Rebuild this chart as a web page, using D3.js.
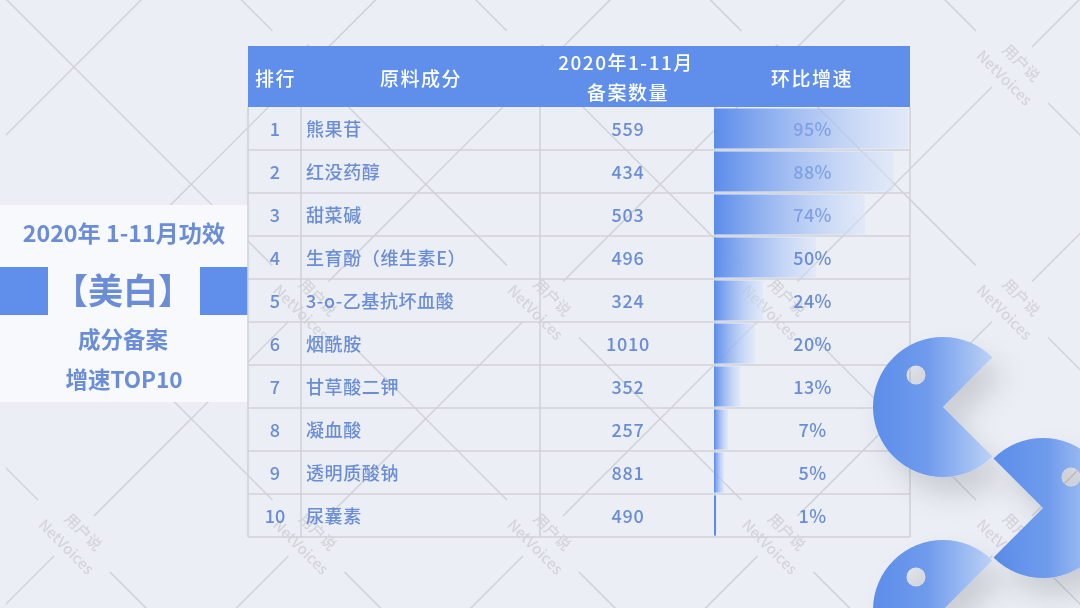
<!DOCTYPE html>
<html>
<head>
<meta charset="utf-8">
<script src="https://cdn.jsdelivr.net/npm/d3@7"></script>
<style>
  html, body { margin: 0; padding: 0; background: #ebeef5; overflow: hidden; }
  svg { display: block; filter: blur(0.35px); }
  text { font-family: "Noto Sans CJK SC", "Noto Sans", sans-serif; }
</style>
</head>
<body>
<div id="chart"></div>
<script>
var ranks = [1, 2, 3, 4, 5, 6, 7, 8, 9, 10];
var ingredients = ["熊果苷", "红没药醇", "甜菜碱", "生育酚（维生素E）", "3-o-乙基抗坏血酸",
                   "烟酰胺", "甘草酸二钾", "凝血酸", "透明质酸钠", "尿囊素"];
var counts = [559, 434, 503, 496, 324, 1010, 352, 257, 881, 490];
var growth = [95, 88, 74, 50, 24, 20, 13, 7, 5, 1];
var headers = ["排行", "原料成分", "环比增速"];
var countHeader = ["2020年1-11月", "备案数量"];
var panelTitle = "2020年 1-11月功效";
var panelKeyword = "【美白】";
var panelLines = ["成分备案", "增速TOP10"];

var width = 1080, height = 608;
var blue = "#5f8feb", textBlue = "#6a8dd6", gridGrey = "#d0d2d6", wmGrey = "#d4d5da";

var svg = d3.select("#chart").append("svg")
  .attr("width", width)
  .attr("height", height);
var defs = svg.append("defs");

var barGrad = defs.append("linearGradient").attr("id", "barGrad");
barGrad.append("stop").attr("offset", "0%").attr("stop-color", "#5b8cea");
barGrad.append("stop").attr("offset", "100%").attr("stop-color", "#d8e4fb").attr("stop-opacity", 0.5);

var pacGrad = defs.append("linearGradient").attr("id", "pacGrad");
pacGrad.append("stop").attr("offset", "0%").attr("stop-color", "#5b8dea");
pacGrad.append("stop").attr("offset", "45%").attr("stop-color", "#6f9bec");
pacGrad.append("stop").attr("offset", "100%").attr("stop-color", "#bcd2f6");

var shadow = defs.append("filter").attr("id", "pacShadow")
  .attr("x", "-40%").attr("y", "-40%").attr("width", "190%").attr("height", "190%");
shadow.append("feDropShadow")
  .attr("dx", 12).attr("dy", 18).attr("stdDeviation", 14)
  .attr("flood-color", "#000").attr("flood-opacity", 0.14);

svg.append("rect").attr("width", width).attr("height", height).attr("fill", "#ebeef5");

// background tile: crossing lines with a gap round each watermark
var tile = 234.5, half = tile / 2;
var bg = svg.append("g");
defs.append("clipPath").attr("id", "bgClip").append("rect")
  .attr("x", 6).attr("y", 0).attr("width", width - 6).attr("height", height);
var lines = bg.append("g").attr("clip-path", "url(#bgClip)")
  .attr("stroke", gridGrey).attr("stroke-width", 1.5);

d3.range(-1, 6).forEach(function(i) {
  d3.range(-1, 4).forEach(function(j) {
    var cx = 74 + tile * i, cy = 67 + tile * j;
    var clean = (i === 0 && j === 0);
    [[-1, -1, 36], [1, 1, 36], [1, -1, 20], [-1, 1, 20]].forEach(function(a) {
      var gap = clean ? 0 : a[2];
      lines.append("line")
        .attr("x1", cx + a[0] * gap).attr("y1", cy + a[1] * gap)
        .attr("x2", cx + a[0] * half).attr("y2", cy + a[1] * half);
    });
    // watermark only where the whole stamp fits on the page
    var visible = cx > 0 && cx < width - 40 && cy > 0 && cy < height - 40;
    if (!clean && visible) {
      bg.append("text")
        .attr("transform", "translate(" + (cx + 10) + "," + (cy - 5) + ") rotate(45)")
        .attr("text-anchor", "middle").attr("dominant-baseline", "central")
        .attr("font-size", 15).attr("font-weight", 500).attr("fill", wmGrey)
        .text("用户说");
      bg.append("text")
        .attr("transform", "translate(" + (cx - 7) + "," + (cy + 10) + ") rotate(45)")
        .attr("text-anchor", "middle").attr("dominant-baseline", "central")
        .attr("font-size", 15).attr("font-weight", 500).attr("fill", wmGrey)
        .text("NetVoices");
    }
  });
});

// left panel
var panel = svg.append("g");
panel.append("rect").attr("x", 0).attr("y", 205).attr("width", 248).attr("height", 197).attr("fill", "#f7f9fd");
panel.append("rect").attr("x", 0).attr("y", 267).attr("width", 48).attr("height", 48).attr("fill", blue);
panel.append("rect").attr("x", 200).attr("y", 267).attr("width", 48).attr("height", 48).attr("fill", blue);

function panelText(txt, x, y, size) {
  return panel.append("text")
    .attr("x", x).attr("y", y)
    .attr("text-anchor", "middle").attr("dominant-baseline", "central")
    .attr("font-size", size).attr("font-weight", 700)
    .attr("fill", textBlue)
    .text(txt);
}
panelText(panelTitle, 124, 232, 23.2);
panelText(panelKeyword, 123, 288, 35);
panelText(panelLines[0], 123, 338, 22.5);
panelText(panelLines[1], 124, 378, 22.5);

// table
var tableLeft = 248, tableRight = 910, headTop = 46, headBottom = 107, tableBottom = 537;
var colEdges = [tableLeft, 301, 540, 715, tableRight];
var rowY = d3.scaleBand().domain(ranks).range([headBottom, tableBottom]);
var barX = d3.scaleLinear().domain([0, 100]).range([714, 918]);

var table = svg.append("g");

var grid = table.append("g").attr("stroke", gridGrey).attr("stroke-width", 1.6);
colEdges.forEach(function(x) {
  grid.append("line").attr("x1", x).attr("x2", x).attr("y1", headBottom).attr("y2", tableBottom);
});
ranks.forEach(function(r) {
  grid.append("line").attr("x1", tableLeft).attr("x2", tableRight)
    .attr("y1", rowY(r) + rowY.bandwidth()).attr("y2", rowY(r) + rowY.bandwidth());
});

table.selectAll("rect.bar").data(growth).enter().append("rect")
  .attr("class", "bar")
  .attr("x", barX(0))
  .attr("y", function(d, i) { return rowY(ranks[i]) + 1.5; })
  .attr("width", function(d) { return barX(d) - barX(0); })
  .attr("height", rowY.bandwidth() - 3)
  .attr("fill", function(d) { return d < 3 ? "#5b8cea" : "url(#barGrad)"; });

table.append("rect")
  .attr("x", tableLeft).attr("y", headTop)
  .attr("width", tableRight - tableLeft).attr("height", headBottom - headTop)
  .attr("fill", blue);

function headText(txt, x, y) {
  table.append("text")
    .attr("x", x).attr("y", y)
    .attr("text-anchor", "middle").attr("dominant-baseline", "central")
    .attr("font-size", 19).attr("letter-spacing", 1.5)
    .attr("font-weight", 500).attr("fill", "#fff")
    .text(txt);
}
headText(headers[0], 275.5, 77);
headText(headers[1], 421, 77);
headText(countHeader[0], 626, 61);
headText(countHeader[1], 628, 91);
headText(headers[2], 812, 77);

function column(values, x, anchor, spacing, fmt, color) {
  table.selectAll(null).data(values).enter().append("text")
    .attr("x", x)
    .attr("y", function(d, i) { return rowY(ranks[i]) + rowY.bandwidth() / 2 - 1; })
    .attr("text-anchor", anchor).attr("dominant-baseline", "central")
    .attr("font-size", 18).attr("font-weight", 500).attr("letter-spacing", spacing)
    .attr("fill", color)
    .text(fmt);
}
column(ranks, 275, "middle", 0, function(d) { return d; }, textBlue);
column(ingredients, 306, "start", 0.6, function(d) { return d; }, textBlue);
column(counts, 628, "middle", 0.8, function(d) { return d; }, textBlue);
// the bar tint lies over the text in the long bars
column(growth, 812.5, "middle", 0.3, function(d) { return d + "%"; }, function(d) { return d >= 74 ? "#7fa1e3" : textBlue; });

// pacman decorations, the eye is a hole in the body
var pacArc = d3.arc().innerRadius(0).outerRadius(70);
var pacs = svg.append("g");

function pacman(cx, cy, start, end, eyeX, eyeY) {
  var eye = d3.path();
  eye.moveTo(eyeX + 9.5, eyeY);
  eye.arc(eyeX, eyeY, 9.5, 0, 2 * Math.PI);
  eye.closePath();
  pacs.append("path")
    .attr("transform", "translate(" + cx + "," + cy + ")")
    .attr("d", pacArc({ startAngle: start, endAngle: end }) + eye.toString())
    .attr("fill-rule", "evenodd")
    .attr("fill", "url(#pacGrad)")
    .attr("filter", "url(#pacShadow)");
}
var q = Math.PI / 4;
pacman(943, 407, 3 * q, 9 * q, -27, -32);
pacman(1043, 508, -q, 5 * q, 28, -31);
pacman(943, 610, 3 * q, 9 * q, -27, -33);
</script>
</body>
</html>
